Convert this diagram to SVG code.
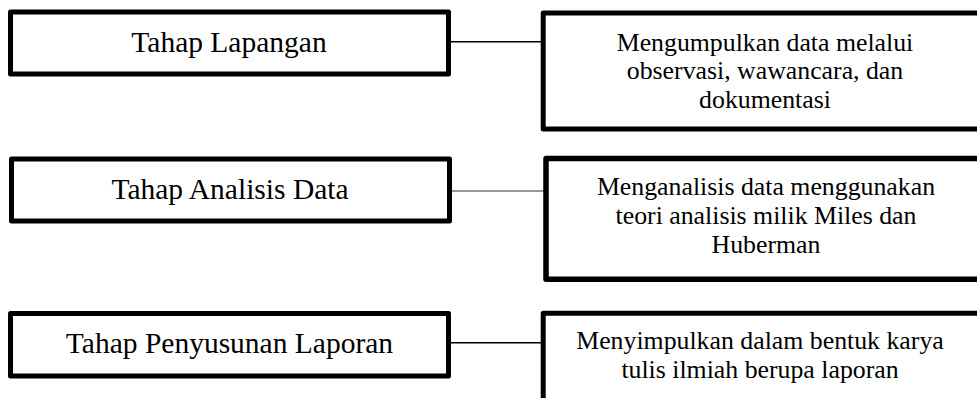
<svg xmlns="http://www.w3.org/2000/svg" width="977" height="398" viewBox="0 0 977 398">
<style>
.box{fill:#fff;stroke:#000;stroke-width:5;stroke-linejoin:round}
.lt{font-family:"Liberation Serif","Times New Roman",serif;font-size:29.5px;fill:#000;text-anchor:middle}
.rt{font-family:"Liberation Serif","Times New Roman",serif;font-size:25.8px;fill:#000;text-anchor:middle}
.conn{stroke:#000;stroke-width:1.5;fill:none}
</style>
<rect width="977" height="398" fill="#fff"/>
<g id="connectors">
<line class="conn" x1="450" y1="41.7" x2="542" y2="41.7"/>
<line class="conn" x1="451" y1="191" x2="545" y2="191" style="stroke:#333;stroke-width:1.2"/>
<line class="conn" x1="450" y1="342.7" x2="542" y2="342.7"/>
</g>
<g id="n1">
<rect class="box" x="10.5" y="12" width="438" height="62"/>
<text class="lt" x="229" y="52">Tahap Lapangan</text>
</g>
<g id="n2">
<rect class="box" x="11.5" y="159" width="438" height="62"/>
<text class="lt" x="230" y="199">Tahap Analisis Data</text>
</g>
<g id="n3">
<rect class="box" x="10.5" y="313.5" width="438" height="62.5"/>
<text class="lt" x="229.5" y="353">Tahap Penyusunan Laporan</text>
</g>
<g id="r1">
<rect class="box" x="543.2" y="13" width="500" height="116"/>
<text class="rt" x="765" y="50.5">Mengumpulkan data melalui</text>
<text class="rt" x="765" y="79">observasi, wawancara, dan</text>
<text class="rt" x="765" y="107.5">dokumentasi</text>
</g>
<g id="r2">
<rect class="box" x="546" y="158.5" width="500" height="120.7" style="stroke-width:5.5"/>
<text class="rt" x="766" y="194.5">Menganalisis data menggunakan</text>
<text class="rt" x="766" y="223.5">teori analisis milik Miles dan</text>
<text class="rt" x="766" y="252.5">Huberman</text>
</g>
<g id="r3">
<rect class="box" x="543.2" y="313.2" width="500" height="200"/>
<text class="rt" x="760" y="349">Menyimpulkan dalam bentuk karya</text>
<text class="rt" x="760" y="378">tulis ilmiah berupa laporan</text>
</g>
</svg>
